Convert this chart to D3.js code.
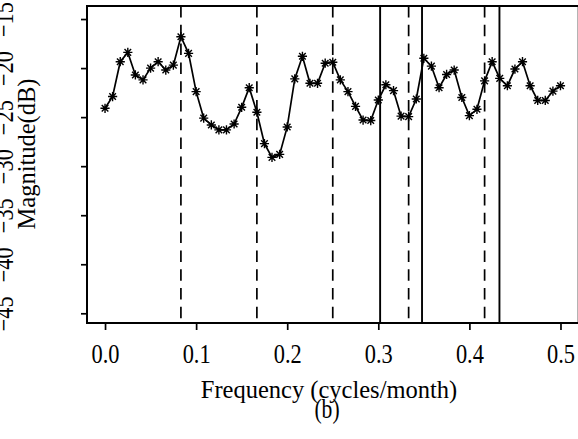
<!DOCTYPE html>
<html><head><meta charset="utf-8">
<script src="https://cdn.jsdelivr.net/npm/d3@7"></script>
<style>html,body{margin:0;padding:0;background:#fff;} svg{display:block;}</style>
</head><body>
<svg id="chart" width="578" height="439"></svg>
<script>
// ---- data ----
const frequency = [0, 0.0083, 0.0167, 0.025, 0.0333, 0.0417, 0.05, 0.0583, 0.0667, 0.075,
  0.0833, 0.0917, 0.1, 0.1083, 0.1167, 0.125, 0.1333, 0.1417, 0.15, 0.1583,
  0.1667, 0.175, 0.1833, 0.1917, 0.2, 0.2083, 0.2167, 0.225, 0.2333, 0.2417,
  0.25, 0.2583, 0.2667, 0.275, 0.2833, 0.2917, 0.3, 0.3083, 0.3167, 0.325,
  0.3333, 0.3417, 0.35, 0.3583, 0.3667, 0.375, 0.3833, 0.3917, 0.4, 0.4083,
  0.4167, 0.425, 0.4333, 0.4417, 0.45, 0.4583, 0.4667, 0.475, 0.4833, 0.4917, 0.5];
const magnitude = [-24.1, -22.9, -19.35, -18.4, -20.7, -21.2, -20.0, -19.35, -20.2, -19.7,
  -16.8, -18.5, -22.4, -25.1, -25.8, -26.3, -26.3, -25.7, -24.0, -22.0,
  -24.5, -27.7, -29.1, -28.8, -26.0, -21.1, -18.8, -21.55, -21.55, -19.5,
  -19.4, -21.2, -22.4, -23.9, -25.3, -25.35, -23.26, -21.7, -22.3, -24.9,
  -24.95, -23.15, -19.0, -19.8, -22.0, -20.65, -20.2, -23.0, -24.85, -24.2,
  -21.3, -19.35, -21.05, -21.8, -20.1, -19.35, -21.8, -23.3, -23.3, -22.35, -21.8];
const dashedLines = [0.0833, 0.1667, 0.25, 0.3333, 0.4167];
const solidLines = [0.302, 0.348, 0.433];
const xTicks = [0, 0.1, 0.2, 0.3, 0.4, 0.5];
const yTicks = [-45, -40, -35, -30, -25, -20, -15];
const xTitle = "Frequency (cycles/month)";
const yTitle = "Magnitude(dB)";
const panelLabel = "(b)";

// ---- layout ----
const svg = d3.select("#chart");
const mLeft = 87, mRight = 578.7, mTop = 6, mBottom = 323;
const x = d3.scaleLinear().domain([-0.0198, 0.52]).range([mLeft, mRight]);
const y = d3.scaleLinear().domain([-45.99, -13.67]).range([mBottom, mTop]);
const font = "'Liberation Serif', 'DejaVu Serif', serif";

svg.append("rect").attr("width", 578).attr("height", 439).attr("fill", "#fff");

// vertical reference lines
svg.append("g").selectAll("line").data(dashedLines).join("line")
  .attr("x1", d => x(d)).attr("x2", d => x(d))
  .attr("y1", mTop).attr("y2", mBottom)
  .attr("stroke", "#000").attr("stroke-width", 1.7)
  .attr("stroke-dasharray", "11.5,7.3");
svg.append("g").selectAll("line").data(solidLines).join("line")
  .attr("x1", d => x(d)).attr("x2", d => x(d))
  .attr("y1", mTop).attr("y2", mBottom)
  .attr("stroke", "#000").attr("stroke-width", 1.9);

// series line
const pts = frequency.map((f, i) => [f, magnitude[i]]);
svg.append("path").datum(pts)
  .attr("fill", "none").attr("stroke", "#000").attr("stroke-width", 1.7)
  .attr("d", d3.line().x(d => x(d[0])).y(d => y(d[1])));

// asterisk markers
const r = 4.6, rd = 3.3;
const star = `M${-r},0L${r},0M0,${-r}L0,${r}M${-rd},${-rd}L${rd},${rd}M${-rd},${rd}L${rd},${-rd}`;
svg.append("g").selectAll("path").data(pts).join("path")
  .attr("transform", d => `translate(${x(d[0])},${y(d[1])})`)
  .attr("d", star).attr("fill", "none").attr("stroke", "#000").attr("stroke-width", 1.4);

// box
svg.append("rect").attr("x", mLeft).attr("y", mTop)
  .attr("width", mRight - mLeft).attr("height", mBottom - mTop)
  .attr("fill", "none").attr("stroke", "#000").attr("stroke-width", 2);

// x axis
const gx = svg.append("g").attr("transform", `translate(0,${mBottom})`)
  .call(d3.axisBottom(x).tickValues(xTicks).tickSize(7).tickFormat(d3.format(".1f")));
gx.select(".domain").remove();
gx.selectAll(".tick line").attr("stroke", "#000").attr("stroke-width", 1.7);
gx.selectAll(".tick text")
  .attr("y", 40).attr("dy", null)
  .attr("transform", "scale(0.8,1)")
  .attr("fill", "#000")
  .style("font-family", font).style("font-size", "28px");

// y axis
const gy = svg.append("g").attr("transform", `translate(${mLeft},0)`)
  .call(d3.axisLeft(y).tickValues(yTicks).tickSize(6).tickFormat(d => d3.format("d")(d).replace("-", "\u2212")));
gy.select(".domain").remove();
gy.selectAll(".tick line").attr("stroke", "#000").attr("stroke-width", 1.7);
gy.selectAll(".tick text")
  .attr("x", null).attr("dy", null)
  .attr("text-anchor", "middle")
  .attr("transform", `translate(${13 - mLeft},0) rotate(-90) scale(0.8,1)`)
  .attr("fill", "#000")
  .style("font-family", font).style("font-size", "28px");

// titles
svg.append("text").attr("x", 329).attr("y", 398)
  .attr("text-anchor", "middle").attr("fill", "#000")
  .style("font-family", font).style("font-size", "24.5px").text(xTitle);
svg.append("text").attr("transform", "translate(35,154) rotate(-90)")
  .attr("text-anchor", "middle").attr("fill", "#000")
  .style("font-family", font).style("font-size", "24.5px").text(yTitle);
svg.append("text").attr("transform", "translate(327,418) scale(0.8,1)")
  .attr("text-anchor", "middle").attr("fill", "#000")
  .style("font-family", font).style("font-size", "27px").text(panelLabel);
</script>
</body></html>
